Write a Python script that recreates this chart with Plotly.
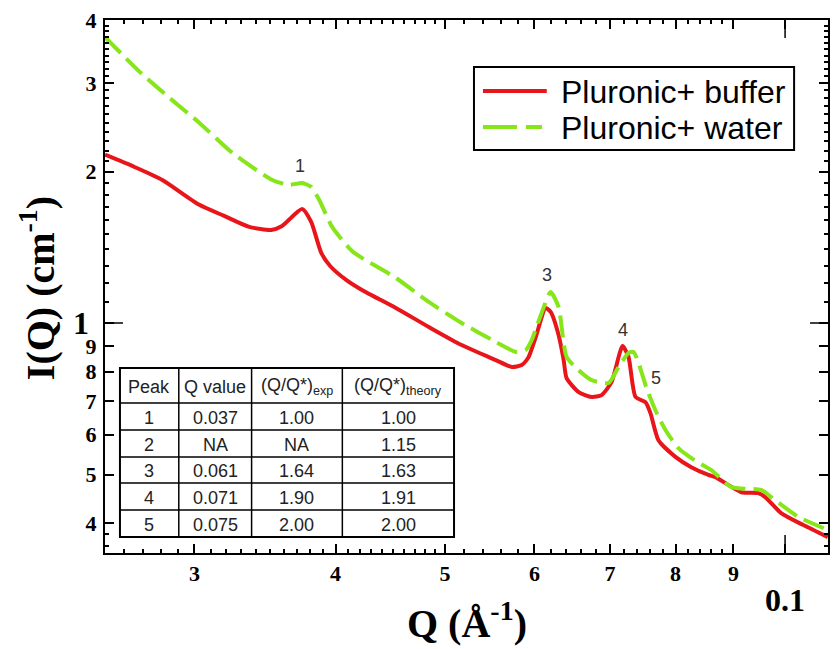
import math
import plotly.graph_objects as go

# ---- data ----
q_buffer = [0.0250, 0.02655, 0.0281, 0.0303, 0.03188, 0.03355, 0.03508, 0.03587, 0.03736, 0.03806,
            0.03885, 0.03956, 0.04087, 0.04221, 0.04523, 0.04837, 0.05172, 0.05545, 0.05728, 0.05846,
            0.05929, 0.06016, 0.06138, 0.06201, 0.06302, 0.06368, 0.06406, 0.06565, 0.06741, 0.06879,
            0.07020, 0.07180, 0.07268, 0.07372, 0.07523, 0.07600, 0.07725, 0.07997, 0.08260, 0.08554,
            0.08677, 0.09147, 0.09467, 0.09603, 0.09920, 0.1038, 0.1091]
i_buffer = [2.16, 2.042, 1.924, 1.717, 1.632, 1.552, 1.531, 1.559, 1.685, 1.588,
            1.378, 1.298, 1.218, 1.163, 1.071, 0.982, 0.904, 0.844, 0.818, 0.825,
            0.856, 0.938, 1.071, 1.052, 0.947, 0.844, 0.777, 0.729, 0.713, 0.719,
            0.763, 0.900, 0.856, 0.713, 0.696, 0.662, 0.585, 0.542, 0.517, 0.499,
            0.494, 0.461, 0.459, 0.451, 0.419, 0.3967, 0.3755]

q_water = [0.0250, 0.02683, 0.02851, 0.03031, 0.03241, 0.03516, 0.03639, 0.03736, 0.03806, 0.03869,
           0.03972, 0.04136, 0.04221, 0.04523, 0.04837, 0.05172, 0.05545, 0.05776, 0.05895, 0.05966,
           0.06088, 0.06201, 0.06302, 0.06406, 0.06565, 0.06741, 0.06979, 0.07122, 0.07268, 0.07343,
           0.07418, 0.07539, 0.07677, 0.07836, 0.08045, 0.08312, 0.08605, 0.08963, 0.09526, 0.09721,
           0.1027, 0.1091]
i_water = [3.70, 3.155, 2.801, 2.498, 2.178, 1.924, 1.881, 1.898, 1.864, 1.756,
           1.552, 1.39, 1.347, 1.229, 1.101, 1.0, 0.917, 0.876, 0.884, 0.925,
           1.047, 1.152, 1.076, 0.856, 0.806, 0.770, 0.760, 0.818, 0.872, 0.876,
           0.833, 0.743, 0.671, 0.613, 0.564, 0.534, 0.510, 0.472, 0.466, 0.451,
           0.412, 0.388]

series_names = ["Pluronic+ buffer", "Pluronic+ water"]

# table
tbl_header = ["Peak", "Q value", "(Q/Q*)<sub>exp</sub>", "(Q/Q*)<sub>theory</sub>"]
tbl_peak = ["1", "2", "3", "4", "5"]
tbl_q = ["0.037", "NA", "0.061", "0.071", "0.075"]
tbl_exp = ["1.00", "NA", "1.64", "1.90", "2.00"]
tbl_theory = ["1.00", "1.15", "1.63", "1.91", "2.00"]

# peak labels on the curves
peak_label_text = ["1", "3", "4", "5"]
peak_label_q = [0.0372, 0.0616, 0.0718, 0.0768]
peak_label_i = [2.05, 1.246, 0.968, 0.777]

# tick labels
x_tickvals = [0.03, 0.04, 0.05, 0.06, 0.07, 0.08, 0.09, 0.1]
x_ticktext = ["3", "4", "5", "6", "7", "8", "9", ""]
y_tickvals = [0.4, 0.5, 0.6, 0.7, 0.8, 0.9, 1, 2, 3, 4]
y_ticktext = ["4", "5", "6", "7", "8", "9", "", "2", "3", "4"]

RED = "#e8161b"
GREEN = "#86e61a"

# ---- layout geometry (pixels) ----
W, H = 833, 649
ML, MR, MT, MB = 105, 3, 20, 96
PW, PH = W - ML - MR, H - MT - MB


def px(xp):  # pixel x -> paper
    return (xp - ML) / PW


def py(yp):  # pixel y -> paper
    return (H - MB - yp) / PH


x_range = [math.log10(0.025), -0.962]
y_range = [-0.457, math.log10(4)]

x_minor = [round(0.025 + 0.001 * k, 3) for k in range(25)] + [round(0.05 + 0.002 * k, 3) for k in range(20)]
x_minor = [v for v in x_minor if v not in x_tickvals]
y_minor = [0.36, 0.38] + [round(1 + 0.1 * k, 1) for k in range(1, 30)]
y_minor = [v for v in y_minor if v not in y_tickvals]

fig = go.Figure()
fig.add_trace(go.Scatter(x=q_buffer, y=i_buffer, mode="lines", name=series_names[0],
                         line=dict(color=RED, width=4, shape="spline", smoothing=0.6)))
fig.add_trace(go.Scatter(x=q_water, y=i_water, mode="lines", name=series_names[1],
                         line=dict(color=GREEN, width=4, dash="22px,8px", shape="spline", smoothing=0.6)))

serif = "Liberation Serif, Times New Roman, serif"
sans = "Liberation Sans, Arial, sans-serif"

fig.update_xaxes(type="log", range=x_range, tickmode="array", tickvals=x_tickvals, ticktext=x_ticktext,
                 ticks="inside", ticklen=9, tickwidth=1.5, tickcolor="black",
                 showline=True, linewidth=2, linecolor="black", mirror="allticks",
                 showgrid=False, zeroline=False,
                 tickfont=dict(family=serif, size=22, color="black", weight="bold"),
                 minor=dict(tickmode="array", tickvals=x_minor, ticks="inside", ticklen=4,
                            tickwidth=1.5, tickcolor="black", showgrid=False))
fig.update_yaxes(type="log", range=y_range, tickmode="array", tickvals=y_tickvals, ticktext=y_ticktext,
                 ticks="inside", ticklen=9, tickwidth=1.5, tickcolor="black",
                 showline=True, linewidth=2, linecolor="black", mirror="allticks",
                 showgrid=False, zeroline=False, ticklabelstandoff=2,
                 tickfont=dict(family=serif, size=22, color="black", weight="bold"),
                 minor=dict(tickmode="array", tickvals=y_minor, ticks="inside", ticklen=4,
                            tickwidth=1.5, tickcolor="black", showgrid=False))

shapes = []
annotations = []

# long ticks at 0.1 (x) and 1 (y)
xp01 = (math.log10(0.1) - x_range[0]) / (x_range[1] - x_range[0])
yp1 = (0 - y_range[0]) / (y_range[1] - y_range[0])
tick_line = dict(color="black", width=1.5)
shapes += [
    dict(type="line", xref="paper", yref="paper", x0=xp01, x1=xp01, ysizemode="pixel", yanchor=0, y0=0, y1=18, line=tick_line),
    dict(type="line", xref="paper", yref="paper", x0=xp01, x1=xp01, ysizemode="pixel", yanchor=1, y0=0, y1=-18, line=tick_line),
    dict(type="line", xref="paper", yref="paper", y0=yp1, y1=yp1, xsizemode="pixel", xanchor=0, x0=0, x1=18, line=tick_line),
    dict(type="line", xref="paper", yref="paper", y0=yp1, y1=yp1, xsizemode="pixel", xanchor=1, x0=0, x1=-18, line=tick_line),
]

# ---- table (drawn with shapes + text) ----
col_edges = [120, 179, 252, 343, 455]
row_edges = [368, 403, 430, 457, 483, 510, 537]
shapes.append(dict(type="rect", xref="paper", yref="paper",
                   x0=px(col_edges[0]), x1=px(col_edges[-1]), y0=py(row_edges[0]), y1=py(row_edges[-1]),
                   fillcolor="white", line=dict(color="black", width=2)))
for xe in col_edges[1:-1]:
    shapes.append(dict(type="line", xref="paper", yref="paper", x0=px(xe), x1=px(xe),
                       y0=py(row_edges[0]), y1=py(row_edges[-1]), line=dict(color="black", width=1.5)))
for ye in row_edges[1:-1]:
    shapes.append(dict(type="line", xref="paper", yref="paper", x0=px(col_edges[0]), x1=px(col_edges[-1]),
                       y0=py(ye), y1=py(ye), line=dict(color="black", width=1.5)))
columns = [tbl_peak, tbl_q, tbl_exp, tbl_theory]
for c in range(4):
    xc = px((col_edges[c] + col_edges[c + 1]) / 2)
    annotations.append(dict(x=xc, y=py((row_edges[0] + row_edges[1]) / 2 + 1), xref="paper", yref="paper",
                            text=tbl_header[c], showarrow=False, xanchor="center", yanchor="middle",
                            font=dict(family=sans, size=18, color="#222")))
    for r in range(5):
        annotations.append(dict(x=xc, y=py((row_edges[r + 1] + row_edges[r + 2]) / 2 + 1), xref="paper", yref="paper",
                                text=columns[c][r], showarrow=False, xanchor="center", yanchor="middle",
                                font=dict(family=sans, size=18, color="#222")))

# ---- legend box (drawn) ----
shapes.append(dict(type="rect", xref="paper", yref="paper", x0=px(475), x1=px(796), y0=py(67), y1=py(150),
                   fillcolor="white", line=dict(color="black", width=2)))
shapes.append(dict(type="line", xref="paper", yref="paper", x0=px(484), x1=px(548), y0=py(91), y1=py(91),
                   line=dict(color=RED, width=4)))
shapes.append(dict(type="line", xref="paper", yref="paper", x0=px(484), x1=px(548), y0=py(127), y1=py(127),
                   line=dict(color=GREEN, width=4, dash="34px,9px,16px")))
for name, yy in zip(series_names, [92, 128]):
    annotations.append(dict(x=px(560), y=py(yy), xref="paper", yref="paper", text=name, showarrow=False,
                            xanchor="left", yanchor="middle", font=dict(family=sans, size=32, color="black")))

# ---- peak labels ----
for t, q, i in zip(peak_label_text, peak_label_q, peak_label_i):
    annotations.append(dict(x=math.log10(q), y=math.log10(i), xref="x", yref="y", text=t, showarrow=False,
                            xanchor="center", yanchor="middle",
                            font=dict(family=sans, size=18, color="#333")))

# ---- axis titles, the larger "1" and "0.1" labels ----
annotations.append(dict(x=px(81), y=yp1, xref="paper", yref="paper", text="1", showarrow=False,
                        xanchor="center", yanchor="middle",
                        font=dict(family=serif, size=32, color="black", weight="bold")))
annotations.append(dict(x=xp01, y=py(600), xref="paper", yref="paper", text="0.1", showarrow=False,
                        xanchor="center", yanchor="middle",
                        font=dict(family=serif, size=32, color="black", weight="bold")))
annotations.append(dict(x=0.5, y=py(648), xref="paper", yref="paper", text="Q (Å<sup>-1</sup>)",
                        showarrow=False, xanchor="center", yanchor="bottom",
                        font=dict(family=serif, size=40, color="black", weight="bold")))
annotations.append(dict(x=px(37), y=py(288), xref="paper", yref="paper", text="I(Q) (cm<sup>-1</sup>)",
                        textangle=-90, showarrow=False, xanchor="center", yanchor="middle",
                        font=dict(family=serif, size=40, color="black", weight="bold")))

fig.update_layout(
    width=W, height=H,
    margin=dict(l=ML, r=MR, t=MT, b=MB),
    paper_bgcolor="white", plot_bgcolor="white",
    showlegend=False,
    shapes=shapes,
    annotations=annotations,
)

fig.write_html("out.html", config={"displayModeBar": False},
               post_script="document.body.style.margin='0';document.documentElement.style.overflow='hidden';")
